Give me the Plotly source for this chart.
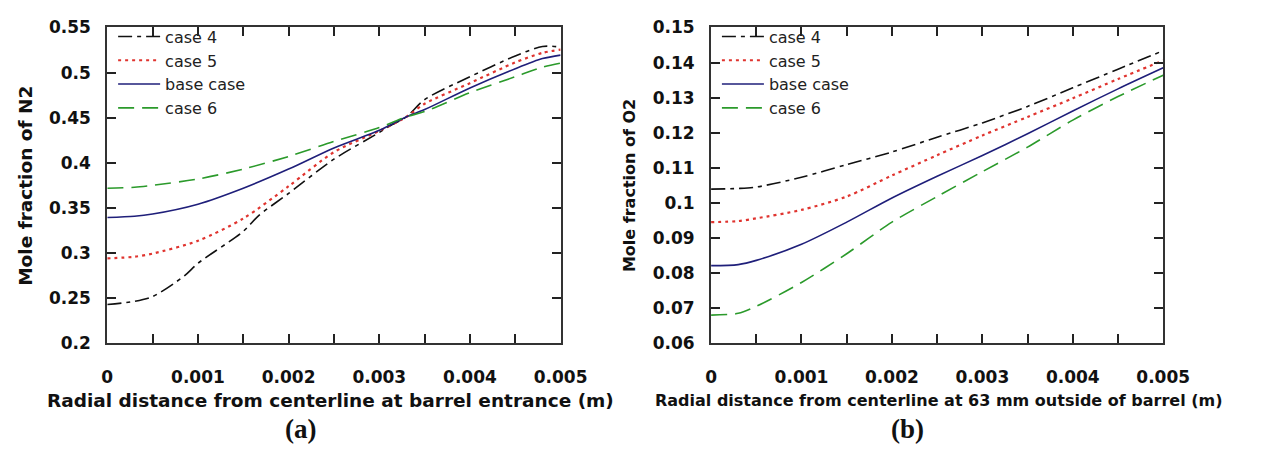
import plotly.graph_objects as go

# ---------------- data: panel (a) N2 ----------------
x_a = [0, 0.0003, 0.0005, 0.001, 0.0015, 0.002, 0.0025, 0.003, 0.0033, 0.0035, 0.004, 0.0045, 0.0048, 0.005]
n2_case6 = [0.3718, 0.3728, 0.375, 0.382, 0.393, 0.407, 0.4237, 0.439, 0.451, 0.4568, 0.4777, 0.4954, 0.506, 0.5106]
n2_base = [0.3393, 0.3407, 0.3432, 0.3541, 0.3718, 0.393, 0.4165, 0.436, 0.451, 0.459, 0.483, 0.5043, 0.5155, 0.5194]
n2_case5 = [0.294, 0.2958, 0.2993, 0.3135, 0.3382, 0.374, 0.4118, 0.4354, 0.451, 0.4654, 0.4883, 0.5113, 0.5219, 0.5254]
x_a4 = [0, 0.0003, 0.0005, 0.00085, 0.001, 0.0015, 0.00167, 0.002, 0.0025, 0.003, 0.0031, 0.0033, 0.0035, 0.004, 0.0045, 0.0048, 0.005]
n2_case4 = [0.2428, 0.2463, 0.2516, 0.2746, 0.2885, 0.324, 0.3415, 0.366, 0.404, 0.4336, 0.44, 0.451, 0.47, 0.4954, 0.5184, 0.529, 0.5283]

# ---------------- data: panel (b) O2 ----------------
x_b = [0, 0.0003, 0.0005, 0.001, 0.0015, 0.002, 0.0025, 0.003, 0.0035, 0.004, 0.0045, 0.005]
o2_case4 = [0.1039, 0.1041, 0.1045, 0.1073, 0.1109, 0.1145, 0.1187, 0.1228, 0.1275, 0.1328, 0.1381, 0.1434]
o2_case5 = [0.0945, 0.0948, 0.0956, 0.098, 0.1018, 0.1078, 0.1136, 0.1192, 0.1245, 0.1298, 0.1353, 0.1406]
o2_base = [0.0821, 0.0824, 0.0836, 0.0882, 0.0945, 0.1014, 0.1076, 0.1135, 0.1197, 0.1262, 0.1325, 0.1385]
o2_case6 = [0.068, 0.0685, 0.0705, 0.0773, 0.0855, 0.0945, 0.1018, 0.1089, 0.1159, 0.1236, 0.1303, 0.1364]

series_names = ["case 4", "case 5", "base case", "case 6"]

# ---------------- ticks ----------------
x_tick_vals = [0, 0.0005, 0.001, 0.0015, 0.002, 0.0025, 0.003, 0.0035, 0.004, 0.0045, 0.005]
x_tick_text = ["0", "", "0.001", "", "0.002", "", "0.003", "", "0.004", "", "0.005"]
ya_tick_vals = [0.2, 0.25, 0.3, 0.35, 0.4, 0.45, 0.5, 0.55]
ya_tick_text = ["0.2", "0.25", "0.3", "0.35", "0.4", "0.45", "0.5", "0.55"]
yb_tick_vals = [0.06, 0.07, 0.08, 0.09, 0.1, 0.11, 0.12, 0.13, 0.14, 0.15]
yb_tick_text = ["0.06", "0.07", "0.08", "0.09", "0.1", "0.11", "0.12", "0.13", "0.14", "0.15"]

# ---------------- styles ----------------
styles = {
    "case 4": dict(color="#111111", dash="14px,5px,4px,5px", width=1.6),
    "case 5": dict(color="#e0342f", dash="3px,4px", width=2.2),
    "base case": dict(color="#1f1f7a", dash="solid", width=1.6),
    "case 6": dict(color="#2b9a2b", dash="16px,8px", width=1.6),
}

W, H = 1262, 454
fig = go.Figure()

panel_a = [("case 4", x_a4, n2_case4), ("case 5", x_a, n2_case5),
           ("base case", x_a, n2_base), ("case 6", x_a, n2_case6)]
panel_b = [("case 4", x_b, o2_case4), ("case 5", x_b, o2_case5),
           ("base case", x_b, o2_base), ("case 6", x_b, o2_case6)]

for name, xs, ys in panel_a:
    fig.add_trace(go.Scatter(x=xs, y=ys, name=name, mode="lines",
                             line=dict(shape="spline", smoothing=0.8, **styles[name]),
                             xaxis="x", yaxis="y", legend="legend"))
for name, xs, ys in panel_b:
    fig.add_trace(go.Scatter(x=xs, y=ys, name=name, mode="lines",
                             line=dict(shape="spline", smoothing=0.8, **styles[name]),
                             xaxis="x2", yaxis="y2", legend="legend2"))

# helper (invisible) traces so the tick-only overlay axes are drawn
fig.add_trace(go.Scatter(x=[x_a[0]], y=[n2_base[0]], mode="lines", opacity=0,
                         showlegend=False, hoverinfo="skip", xaxis="x3", yaxis="y3"))
fig.add_trace(go.Scatter(x=[x_b[0]], y=[o2_base[0]], mode="lines", opacity=0,
                         showlegend=False, hoverinfo="skip", xaxis="x4", yaxis="y4"))

tickfont = dict(family="DejaVu Sans", size=17, color="#111111", weight="bold")
axis_common = dict(showline=True, linecolor="#333333", linewidth=2, mirror="ticks",
                   ticks="inside", ticklen=9, tickwidth=2, tickcolor="#222222",
                   showgrid=False, zeroline=False, tickfont=tickfont)
tick_only = dict(showline=False, ticks="inside", ticklen=9, tickwidth=2, tickcolor="#222222",
                 mirror="ticks", showticklabels=False, tickmode="array")

ydom = [1 - 348.5 / H, 1 - 18.3 / H]
xdom_a = [104 / W, 569.5 / W]
xdom_b = [724 / W, 1188.3 / W]
fig.update_layout(
    width=W, height=H, margin=dict(l=0, r=0, t=0, b=0),
    paper_bgcolor="white", plot_bgcolor="white",
    xaxis=dict(domain=xdom_a, range=[0, 0.005], anchor="y",
               tickmode="array", tickvals=x_tick_vals, ticktext=x_tick_text,
               ticklabelstandoff=17, **axis_common),
    yaxis=dict(domain=ydom, range=[0.2, 0.55], anchor="x",
               tickmode="array", tickvals=ya_tick_vals, ticktext=ya_tick_text,
               ticklabelstandoff=11, **axis_common),
    xaxis2=dict(domain=xdom_b, range=[0, 0.005], anchor="y2",
                tickmode="array", tickvals=x_tick_vals, ticktext=x_tick_text,
                ticklabelstandoff=17, **axis_common),
    yaxis2=dict(domain=ydom, range=[0.06, 0.15], anchor="x2",
                tickmode="array", tickvals=yb_tick_vals, ticktext=yb_tick_text,
                ticklabelstandoff=11, **axis_common),
    xaxis3=dict(overlaying="x", domain=xdom_a, range=[0, 0.005], anchor="y3",
                tickvals=x_tick_vals, **tick_only),
    yaxis3=dict(overlaying="y", domain=ydom, range=[0.2, 0.55], anchor="x3",
                tickvals=ya_tick_vals, **tick_only),
    xaxis4=dict(overlaying="x2", domain=xdom_b, range=[0, 0.005], anchor="y4",
                tickvals=x_tick_vals, **tick_only),
    yaxis4=dict(overlaying="y2", domain=ydom, range=[0.06, 0.15], anchor="x4",
                tickvals=yb_tick_vals, **tick_only),
    legend=dict(x=110 / W, y=1 - 10 / H, xanchor="left", yanchor="top",
                bgcolor="rgba(0,0,0,0)", itemwidth=42,
                font=dict(family="DejaVu Sans", size=16, color="#222222")),
    legend2=dict(x=730 / W, y=1 - 10 / H, xanchor="left", yanchor="top",
                 bgcolor="rgba(0,0,0,0)", itemwidth=42,
                 font=dict(family="DejaVu Sans", size=16, color="#222222")),
    showlegend=True,
)

title_font_a = dict(family="DejaVu Sans", size=18.5, color="#111111", weight="bold")
title_font_b = dict(family="DejaVu Sans", size=16, color="#111111", weight="bold")
label_font = dict(family="Liberation Serif", size=27, color="#111111", weight="bold")

annotations = [
    dict(text="Radial distance from centerline at barrel entrance (m)", x=333 / W, y=1 - 409 / H,
         font=title_font_a),
    dict(text="Radial distance from centerline at 63 mm outside of barrel (m)", x=958.5 / W, y=1 - 408 / H,
         font=title_font_b),
    dict(text="Mole fraction of N2", x=20 / W, y=1 - 183.4 / H, textangle=-90, font=title_font_a),
    dict(text="Mole fraction of O2", x=640.5 / W, y=1 - 183.4 / H, textangle=-90, font=title_font_b),
    dict(text="(a)", x=302.5 / W, y=1 - 438 / H, font=label_font),
    dict(text="(b)", x=926 / W, y=1 - 438 / H, font=label_font),
]
for a in annotations:
    fig.add_annotation(xref="paper", yref="paper", xanchor="center", yanchor="middle",
                       showarrow=False, **a)

fig.write_html("out.html")
